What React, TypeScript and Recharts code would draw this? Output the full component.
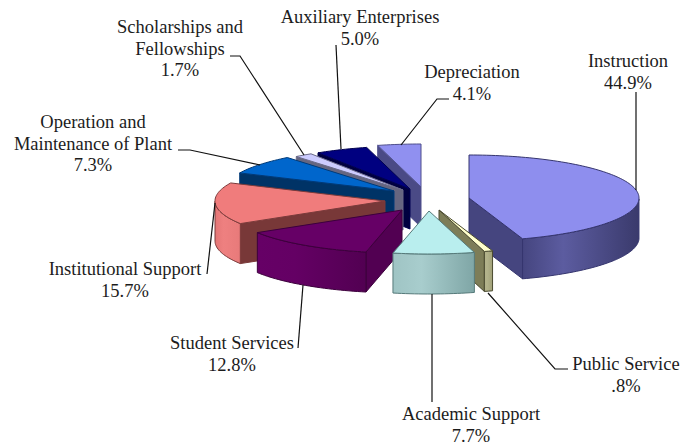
import React from "react";
import { PieChart, Pie } from "recharts";

// Expense categories, listed counter-clockwise from twelve o'clock so that
// slices at the back of the exploded pie are painted first.
const categories = [
  "Depreciation",
  "Auxiliary Enterprises",
  "Scholarships and Fellowships",
  "Operation and Maintenance of Plant",
  "Institutional Support",
  "Student Services",
  "Academic Support",
  "Public Service",
  "Instruction",
];
const shares = [4.1, 5.0, 1.7, 7.3, 15.7, 12.8, 7.7, 0.8, 44.9];

const rows = categories.map((name, i) => ({ name, value: shares[i] }));

const WIDTH = 682;
const HEIGHT = 443;
const CX = 421;
const CY = 187;
const RADIUS = 170;
const SQUASH = 43 / 170;
const DEPTH = 40;

type Look = {
  dx: number;
  dy: number;
  top: string;
  side: string;
  rimFrom: string;
  rimMid: string;
  rimTo: string;
  edge: string;
  layer: number;
};

// Explode offset of each wedge's tip, its face colours, and its paint layer.
const looks: Record<string, Look> = {
  Depreciation: { dx: 0, dy: 0, top: "#9090f0", side: "#4a4a86", rimFrom: "#4a4a86", rimMid: "#4a4a86", rimTo: "#4a4a86", edge: "#4f4f8c", layer: 0 },
  "Auxiliary Enterprises": { dx: -11, dy: 2, top: "#000080", side: "#00003f", rimFrom: "#00003f", rimMid: "#00003f", rimTo: "#00003f", edge: "#000050", layer: 0 },
  "Scholarships and Fellowships": { dx: -18, dy: 3, top: "#ccccff", side: "#666680", rimFrom: "#666680", rimMid: "#666680", rimTo: "#666680", edge: "#6a6a88", layer: 0 },
  "Operation and Maintenance of Plant": { dx: -27, dy: 4, top: "#0066cc", side: "#003366", rimFrom: "#003366", rimMid: "#003366", rimTo: "#003366", edge: "#003a78", layer: 0 },
  "Institutional Support": { dx: -36, dy: 14, top: "#f07c7c", side: "#783838", rimFrom: "#e47676", rimMid: "#ee8080", rimTo: "#e87a7a", edge: "#7a3a3a", layer: 0 },
  "Student Services": { dx: -19, dy: 23, top: "#660066", side: "#520052", rimFrom: "#660066", rimMid: "#640064", rimTo: "#520052", edge: "#3c003c", layer: 0 },
  "Academic Support": { dx: 8, dy: 24, top: "#b9eeee", side: "#87adad", rimFrom: "#9fc4c4", rimMid: "#a8cdcd", rimTo: "#7fa6a6", edge: "#567a7a", layer: 2 },
  "Public Service": { dx: 18, dy: 23, top: "#ffffcc", side: "#7d7d58", rimFrom: "#b2b28a", rimMid: "#b2b28a", rimTo: "#a0a078", edge: "#4a4a30", layer: 1 },
  Instruction: { dx: 48, dy: 11, top: "#8e8eee", side: "#45457f", rimFrom: "#45457f", rimMid: "#5c5ca0", rimTo: "#3a3a6c", edge: "#35356e", layer: 0 },
};

type Note = { lines: string[]; x: number; y: number; leader: [number, number][] };

// Callout text blocks and the leader lines running to their wedges.
const notes: Record<string, Note> = {
  Depreciation: { lines: ["Depreciation"], x: 472, y: 78, leader: [[449, 99], [437, 99], [401, 145]] },
  "Auxiliary Enterprises": { lines: ["Auxiliary Enterprises"], x: 360, y: 23, leader: [[336, 45], [341, 149]] },
  "Scholarships and Fellowships": { lines: ["Scholarships and", "Fellowships"], x: 180, y: 33, leader: [[230, 56], [240, 56], [304, 155]] },
  "Operation and Maintenance of Plant": { lines: ["Operation and", "Maintenance of Plant"], x: 93, y: 128, leader: [[178, 150], [190, 150], [260, 165]] },
  "Institutional Support": { lines: ["Institutional Support"], x: 125, y: 275, leader: [[207, 274], [215, 203]] },
  "Student Services": { lines: ["Student Services"], x: 232, y: 349, leader: [[298, 348], [303, 285]] },
  "Academic Support": { lines: ["Academic Support"], x: 471, y: 420, leader: [[432, 294], [432, 402]] },
  "Public Service": { lines: ["Public Service"], x: 626, y: 370, leader: [[568, 369], [555, 369], [488, 293]] },
  Instruction: { lines: ["Instruction"], x: 628, y: 67, leader: [[636, 92], [636, 190]] },
};

const fmtShare = (v: number) => `${v.toFixed(1).replace(/^0/, "")}%`;
const rad = (d: number) => (d * Math.PI) / 180;
const pathOf = (pts: [number, number][]) =>
  pts.map((p, i) => `${i ? "L" : "M"}${p[0].toFixed(2)},${p[1].toFixed(2)}`).join("") + "Z";

// Draws one wedge as a squashed solid: visible side walls first, then the lid.
function Wedge3D(props: any, layer: number) {
  const { cx, cy, outerRadius, startAngle, endAngle, name } = props;
  const look = looks[name];
  if (!look || look.layer !== layer) return <g />;

  const tipX = cx + look.dx;
  const tipY = cy + look.dy;
  const sweep = endAngle - startAngle;
  const from = ((90 - endAngle) % 360 + 360) % 360;
  const to = from + sweep;
  const at = (deg: number, drop = 0): [number, number] => [
    tipX + outerRadius * Math.sin(rad(deg)),
    tipY - outerRadius * SQUASH * Math.cos(rad(deg)) + drop,
  ];

  const arc: number[] = [];
  const steps = Math.max(2, Math.ceil(sweep / 1.5));
  for (let i = 0; i <= steps; i++) arc.push(from + (sweep * i) / steps);

  const lid = pathOf([[tipX, tipY], ...arc.map((a) => at(a))]);
  const radialWall = (deg: number) =>
    pathOf([[tipX, tipY], at(deg), at(deg, DEPTH), [tipX, tipY + DEPTH]]);

  const frontArc = arc.filter((a) => Math.cos(rad(a)) < 0.001);
  const gradId = `rim-${name.replace(/\s+/g, "-")}`;
  const frontXs = frontArc.map((a) => at(a)[0]);
  const faces = { stroke: look.edge, strokeWidth: 1, strokeLinejoin: "round" as const };

  return (
    <g>
      {frontArc.length > 1 && (
        <defs>
          <linearGradient
            id={gradId}
            gradientUnits="userSpaceOnUse"
            x1={Math.min(...frontXs)}
            x2={Math.max(...frontXs)}
            y1={0}
            y2={0}
          >
            <stop offset="0" stopColor={look.rimFrom} />
            <stop offset="0.35" stopColor={look.rimMid} />
            <stop offset="1" stopColor={look.rimTo} />
          </linearGradient>
        </defs>
      )}
      {Math.sin(rad(from)) < -0.001 && <path d={radialWall(from)} fill={look.side} {...faces} />}
      {Math.sin(rad(to)) > 0.001 && <path d={radialWall(to)} fill={look.side} {...faces} />}
      {frontArc.length > 1 && (
        <path
          d={pathOf([
            ...frontArc.map((a) => at(a)),
            ...[...frontArc].reverse().map((a) => at(a, DEPTH)),
          ])}
          fill={`url(#${gradId})`}
          {...faces}
        />
      )}
      <path d={lid} fill={look.top} {...faces} />
    </g>
  );
}

function Callout(props: any) {
  const note = notes[props.name];
  if (!note) return <g />;
  const textRows = [...note.lines, fmtShare(props.value)];
  return (
    <g>
      <polyline
        points={note.leader.map((p) => p.join(",")).join(" ")}
        fill="none"
        stroke="#111"
        strokeWidth={1.2}
      />
      {textRows.map((t, i) => (
        <text
          key={t}
          x={note.x}
          y={note.y + i * 21.6}
          textAnchor="middle"
          fontFamily="'Liberation Serif', serif"
          fontSize={18.5}
          fill="#1c1c1c"
        >
          {t}
        </text>
      ))}
    </g>
  );
}

export default function App() {
  return (
    <div style={{ position: "absolute", left: 0, top: 0, width: WIDTH, height: HEIGHT, background: "#fff" }}>
      <PieChart width={WIDTH} height={HEIGHT} margin={{ top: 0, right: 0, bottom: 0, left: 0 }}>
        {[0, 1, 2].map((layer) => (
          <Pie
            key={layer}
            data={rows}
            dataKey="value"
            nameKey="name"
            cx={CX}
            cy={CY}
            innerRadius={0}
            outerRadius={RADIUS}
            startAngle={90}
            endAngle={450}
            isAnimationActive={false}
            shape={(p: any) => Wedge3D(p, layer)}
            label={layer === 2 ? Callout : false}
            labelLine={false}
          />
        ))}
      </PieChart>
    </div>
  );
}
